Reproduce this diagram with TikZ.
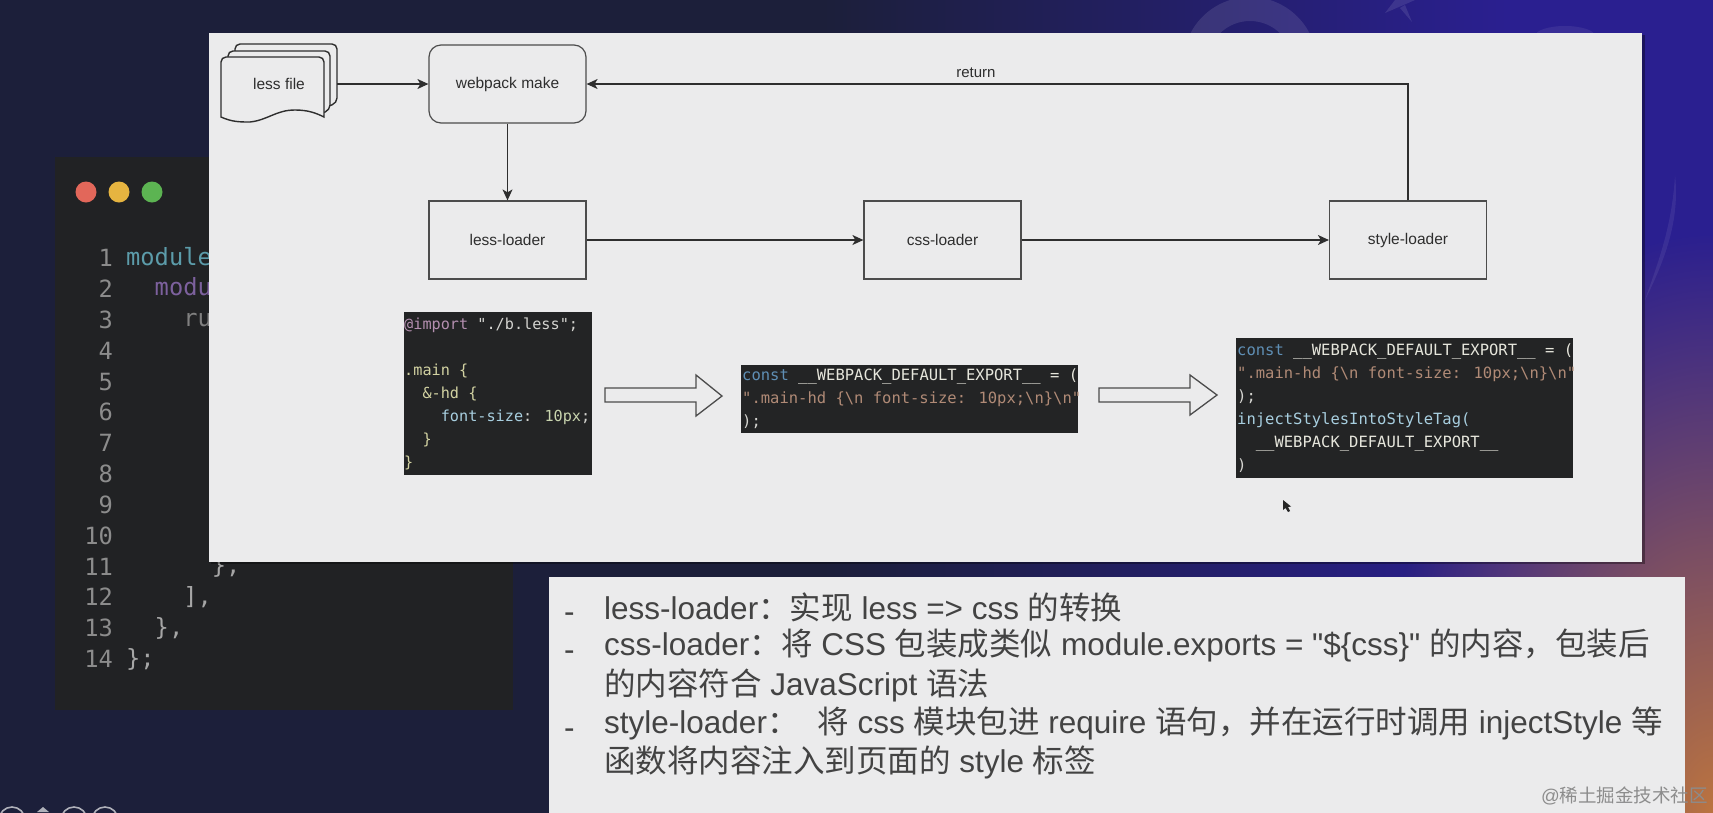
\documentclass[tikz,border=0pt]{standalone}
\usepackage{fontspec}
\setmainfont{Liberation Sans}
\newfontfamily\cjk{Noto Sans CJK SC}
\newfontfamily\codefont{DejaVu Sans Mono}
\newfontfamily\plainsans{Liberation Sans}
\usetikzlibrary{arrows.meta,fadings}
\definecolor{navy}{HTML}{1C1F3A}
\definecolor{bluebg}{HTML}{2A1F90}
\definecolor{glow}{HTML}{BC7440}
\definecolor{paper}{HTML}{EBEBEC}
\definecolor{ink}{HTML}{2E2E2E}
\definecolor{boxline}{HTML}{4C4C4C}
\definecolor{codebg}{HTML}{232425}
\definecolor{winbg}{HTML}{212224}
\definecolor{kwblue}{HTML}{5F8FB5}
\definecolor{cwhite}{HTML}{E6E6DC}
\definecolor{cstr}{HTML}{B08A76}
\definecolor{cyel}{HTML}{D2D2A2}
\definecolor{cpur}{HTML}{B48FB0}
\definecolor{ccy}{HTML}{A8CFE0}
\definecolor{cnum}{HTML}{C8D4AE}
\definecolor{cgrey}{HTML}{D4D4D0}
\definecolor{dotred}{HTML}{E2675A}
\definecolor{dotyel}{HTML}{E6B440}
\definecolor{dotgrn}{HTML}{5CB452}
\definecolor{modteal}{HTML}{5C9CAA}
\definecolor{modpur}{HTML}{7D619E}
\definecolor{numgrey}{HTML}{8C8C8C}
\definecolor{rugrey}{HTML}{808080}
\definecolor{bracegrey}{HTML}{A6A6A6}
\pgfdeclarehorizontalshading{bgh}{100bp}{color(0bp)=(navy); color(49bp)=(navy); color(69bp)=(bluebg); color(100bp)=(bluebg)}
\tikzfading[name=glowfade, inner color=transparent!0, outer color=transparent!100]
\newcommand{\kw}[2]{\textcolor{#1}{#2}}
\newcommand{\ind}[1]{\hphantom{#1}}
\tikzset{
  x=1pt,y=-1pt,
  flowbox/.style={draw=boxline,line width=1.2pt,minimum width=157pt,minimum height=78pt,inner sep=0pt,font=\fontsize{15.5}{18}\selectfont,text=ink},
  link/.style={draw=ink,line width=1.2pt,-{Stealth[length=11pt,width=10pt,inset=3pt]}},
  codepanel/.style={fill=codebg,draw=none,inner sep=0pt},
  codetext/.style={anchor=west,inner sep=0pt,align=left,font=\codefont\fontsize{15.5}{23}\selectfont},
  fatarrow/.style={draw=boxline,fill=paper,line width=1.3pt,line join=miter},
  doc/.style={draw=ink,line width=1.4pt,fill=paper},
  note/.style={anchor=west,inner sep=0pt,text=ink!90,font=\fontsize{31.5}{36}\selectfont},
}
\begin{document}
\begin{tikzpicture}
\useasboundingbox (0,0) rectangle (1713,812);
% background
\shade[shading=bgh] (0,0) rectangle (1713,812);
\fill[glow,path fading=glowfade] (1713,812) ellipse [x radius=340,y radius=580];
\begin{scope}
\clip (0,0) rectangle (1713,812);
\fill[white,opacity=.1,even odd rule] (1250,64) circle (67) (1250,64) circle (43);
\fill[white,opacity=.1] (1385,13) -- (1415,0) -- (1395,0) -- cycle (1400,8) -- (1412,22) -- (1405,5) -- cycle;
\fill[white,opacity=.07] (1565,36) ellipse (30 and 10);
\fill[white,opacity=.07] (1645,300) .. controls (1665,260) and (1680,220) .. (1675,175) .. controls (1672,230) and (1655,270) .. (1645,300) -- cycle;
\end{scope}
% code window behind
\fill[winbg] (55,157) rectangle (513,710);
\fill[dotred] (86,192) circle (10.5);
\fill[dotyel] (119,192) circle (10.5);
\fill[dotgrn] (152,192) circle (10.5);
\node[anchor=east,inner sep=0pt,align=right,text=numgrey,font=\codefont\fontsize{23.7}{30.85}\selectfont] (linenos) at (113,458.5)
  {1\\2\\3\\4\\5\\6\\7\\8\\9\\10\\11\\12\\13\\14};
\node[anchor=west,inner sep=0pt,align=left,text=bracegrey,font=\codefont\fontsize{23.7}{30.85}\selectfont] (sidecode) at (126,458.5)
  {\kw{modteal}{module}\\
   \ind{00}\kw{modpur}{modu}\\
   \ind{0000}\kw{rugrey}{ru}\\
   \mbox{}\\\mbox{}\\\mbox{}\\\mbox{}\\\mbox{}\\\mbox{}\\\mbox{}\\
   \ind{000000}\},\\
   \ind{0000}],\\
   \ind{00}\},\\
   \};};
% main panels
\fill[black,opacity=.35] (211,35) rectangle (1645,564);
\node[fill=paper,inner sep=0pt,minimum width=1433pt,minimum height=529pt] (board) at (925.5,297.5) {};
\node[fill=paper,inner sep=0pt,minimum width=1136pt,minimum height=240pt,anchor=north west] (notes) at (549,577) {};
% less file
\begin{scope}[rounded corners=5pt]
\draw[doc] (235,60) -- (235,44) -- (337,44) -- (337,103) [sharp corners] -- (326,107) -- (326,60) -- cycle;
\draw[doc] (228,66) -- (228,51) -- (330,51) -- (330,110) [sharp corners] -- (320,114) -- (320,66) -- cycle;
\draw[doc] (221,90) -- (221,57) -- (324,57) -- (324,90) [sharp corners] -- (324,117) .. controls (316,113) and (308,110) .. (295,110) .. controls (276,110) and (268,120) .. (250,122) .. controls (240,122) and (232,122) .. (221,117) -- cycle;
\end{scope}
\node[minimum width=116pt,minimum height=80pt,inner sep=0pt,font=\fontsize{15.5}{18}\selectfont,text=ink] (lessfile) at (279,84) {less file};
% flow
\node[flowbox,rounded corners=12pt] (make) at (507.5,84) {webpack make};
\node[flowbox] (less) at (507.5,240) {less-loader};
\node[flowbox] (css) at (942.5,240) {css-loader};
\node[flowbox] (style) at (1408,240) {style-loader};
\draw[link] (lessfile.east) -- (make.west);
\draw[link] (make.south) -- (less.north);
\draw[link] (less.east) -- (css.west);
\draw[link] (css.east) -- (style.west);
\draw[link] (style.north) |- (make.east) node[pos=.763,above=6pt,inner sep=0pt,font=\fontsize{15}{18}\selectfont,text=ink] (returnlabel) {return};
% code shots
\node[codepanel,minimum width=188pt,minimum height=163pt] (shotA) at (498,393.5) {};
\node[codetext,font=\codefont\fontsize{15.2}{23}\selectfont] (textA) at (404,393.5) {%
  \kw{cpur}{@import} \kw{cgrey}{"./b.less";}\\
  \mbox{}\\
  \kw{cyel}{.main \{}\\
  \kw{cyel}{\ind{00}\&-hd \{}\\
  \ind{0000}\kw{ccy}{font-size}\kw{cgrey}{:} \kw{cnum}{10px}\kw{cgrey}{;}\\
  \kw{cyel}{\ind{00}\}}\\
  \kw{cyel}{\}}};
\node[codepanel,minimum width=337pt,minimum height=68pt] (shotB) at (909.5,399) {};
\node[codetext] (textB) at (742,399) {%
  \kw{kwblue}{const} \kw{cwhite}{\_\_WEBPACK\_DEFAULT\_EXPORT\_\_ = (}\\
  \kw{cstr}{".main-hd \{\textbackslash n font-size: 10px;\textbackslash n\}\textbackslash n"}\\
  \kw{cgrey}{);}};
\node[codepanel,minimum width=337pt,minimum height=140pt] (shotC) at (1404.5,408) {};
\node[codetext] (textC) at (1237,408) {%
  \kw{kwblue}{const} \kw{cwhite}{\_\_WEBPACK\_DEFAULT\_EXPORT\_\_ = (}\\
  \kw{cstr}{".main-hd \{\textbackslash n font-size: 10px;\textbackslash n\}\textbackslash n"}\\
  \kw{cgrey}{);}\\
  \kw{ccy}{injectStylesIntoStyleTag(}\\
  \kw{cwhite}{\ind{00}\_\_WEBPACK\_DEFAULT\_EXPORT\_\_}\\
  \kw{cgrey}{)}};
% fat arrows
\draw[fatarrow] (605,388) -- (696,388) -- (696,375) -- (722,396) -- (696,416) -- (696,402) -- (605,402) -- cycle;
\draw[fatarrow] (1099,388) -- (1190,388) -- (1190,375) -- (1217,395) -- (1190,415) -- (1190,402) -- (1099,402) -- cycle;
% cursor
\fill[black!85] (1283,500) -- (1283,510) -- (1285.5,508) -- (1288,512) -- (1290,511) -- (1288,507) -- (1291,506.5) -- cycle;
% notes
\node[note] (d1) at (564,618) {-};
\node[note] (n1) at (604,607) {less-loader{\cjk：实现} less => css {\cjk 的转换}};
\node[note] (d2) at (564,656) {-};
\node[note] (n2) at (604,645) {css-loader{\cjk：将} CSS {\cjk 包装成类似} module.exports = {\plainsans "}\$\{css\}{\plainsans "} {\cjk 的内容，包装后}};
\node[note] (n3) at (604,685) {{\cjk 的内容符合} JavaScript {\cjk 语法}};
\node[note] (d3) at (564,734) {-};
\node[note] (n4) at (604,723) {style-loader{\cjk：}\hspace{10pt} {\cjk 将} css {\cjk 模块包进} require {\cjk 语句，并在运行时调用} injectStyle {\cjk 等}};
\node[note] (n5) at (604,762) {{\cjk 函数将内容注入到页面的} style {\cjk 标签}};
% watermark
\node[anchor=east,inner sep=0pt,text=black!45,font=\fontsize{18.5}{22}\selectfont] (mark) at (1708,796) {@{\cjk 稀土掘金技术社区}};
% bottom-left icons
\draw[draw=white!65!navy,line width=1.6pt] (12,820) circle (13) (74,820) circle (13) (105,820) circle (13);
\fill[white!65!navy] (43,807) -- (49,812) -- (37,812) -- cycle;
\end{tikzpicture}
\end{document}
